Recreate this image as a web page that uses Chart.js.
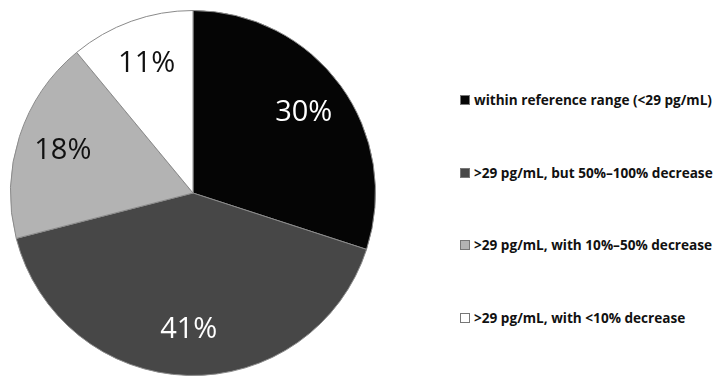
<!DOCTYPE html>
<html>
<head>
<meta charset="utf-8">
<script src="https://cdn.jsdelivr.net/npm/chart.js@4/dist/chart.umd.min.js"></script>
<style>
  html, body { margin: 0; padding: 0; background: #fff; }
  #wrap { position: relative; width: 724px; height: 378px; overflow: hidden; }
  #pieBox { position: absolute; left: 0; top: 0; width: 390px; height: 378px; }
  #leyenda { position: absolute; left: 460px; top: 0; font-family: "Open Sans", sans-serif; font-weight: 700; font-size: 13.6px; color: #111; }
  #leyenda .item { position: absolute; left: 0; white-space: nowrap; line-height: 16px; }
  #leyenda .caja { display: inline-block; width: 8px; height: 8px; border: 1px solid #777; margin-right: 4px; vertical-align: 0px; }
</style>
</head>
<body>
<div id="wrap">
  <div id="pieBox"><canvas id="torta"></canvas></div>
  <div id="leyenda"></div>
</div>
<script>
(() => {
  const categorias = [
    'within reference range (<29 pg/mL)',
    '>29 pg/mL, but 50%\u2013100% decrease',
    '>29 pg/mL, with 10%\u201350% decrease',
    '>29 pg/mL, with <10% decrease'
  ];
  const porcentajes = [30, 41, 18, 11];
  const colores = ['#050505', '#474747', '#b3b3b3', '#ffffff'];
  const colorTexto = ['#ffffff', '#ffffff', '#111111', '#111111'];

  // rótulos de porcentaje dentro de cada porción
  const rotulos = {
    id: 'rotulos',
    afterDatasetsDraw(chart) {
      const ctx = chart.ctx;
      const meta = chart.getDatasetMeta(0);
      ctx.save();
      ctx.font = '29px "Open Sans", sans-serif';
      ctx.textAlign = 'center';
      ctx.textBaseline = 'middle';
      meta.data.forEach((arc, i) => {
        const p = arc.getProps(['x', 'y', 'startAngle', 'endAngle', 'outerRadius'], true);
        const mid = (p.startAngle + p.endAngle) / 2;
        const r = p.outerRadius * 0.75;
        ctx.fillStyle = colorTexto[i];
        ctx.fillText(porcentajes[i] + '%', p.x + Math.cos(mid) * r, p.y + Math.sin(mid) * r);
      });
      ctx.restore();
    }
  };

  new Chart(document.getElementById('torta'), {
    type: 'pie',
    data: {
      labels: categorias,
      datasets: [{
        data: porcentajes,
        backgroundColor: colores,
        borderColor: '#8a8a8a',
        borderWidth: 1
      }]
    },
    options: {
      responsive: true,
      maintainAspectRatio: false,
      animation: false,
      layout: { padding: { top: 10, bottom: 2, left: 10, right: 14 } },
      plugins: { legend: { display: false }, tooltip: { enabled: false } }
    },
    plugins: [rotulos]
  });

  // Leyenda
  const filasY = [92, 165, 237, 310];
  const ley = document.getElementById('leyenda');
  categorias.forEach((c, i) => {
    const d = document.createElement('div');
    d.className = 'item';
    d.style.top = filasY[i] + 'px';
    const caja = document.createElement('span');
    caja.className = 'caja';
    caja.style.background = colores[i];
    d.appendChild(caja);
    d.appendChild(document.createTextNode(c));
    ley.appendChild(d);
  });
})();
</script>
</body>
</html>
